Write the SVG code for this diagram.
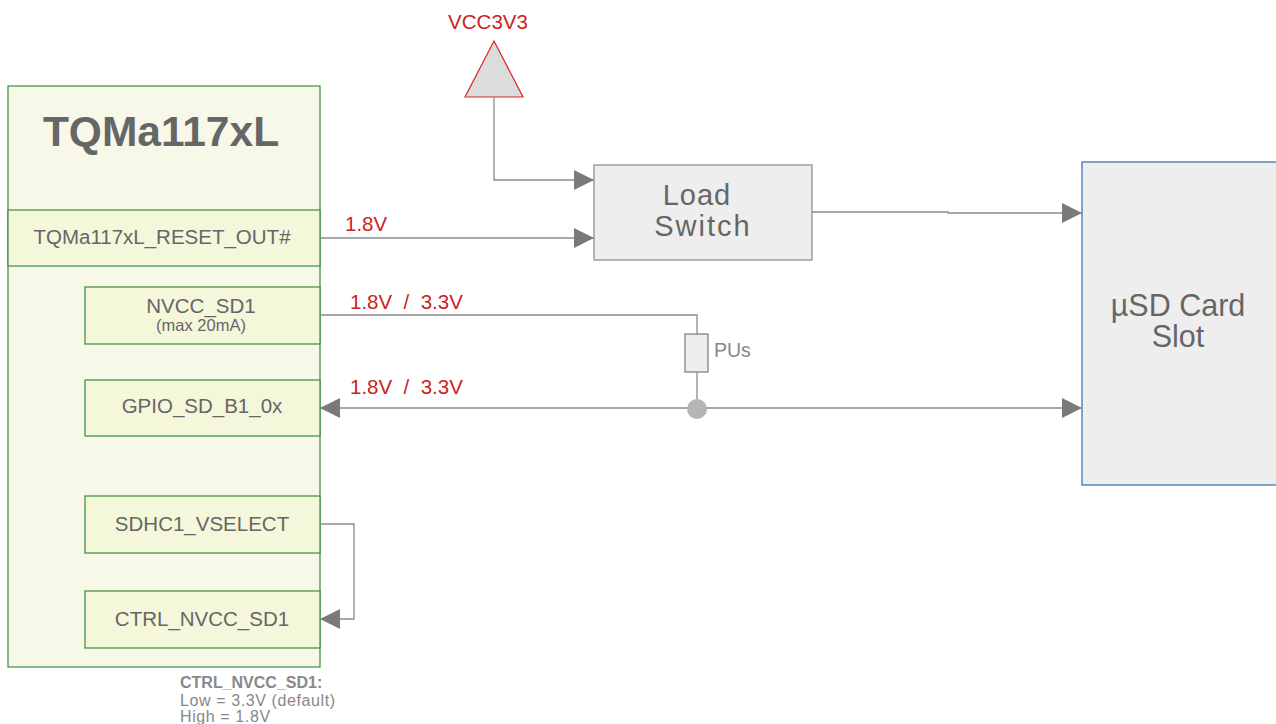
<svg xmlns="http://www.w3.org/2000/svg" width="1276" height="724" viewBox="0 0 1276 724">
<style>
.sig{fill:#f5f7da;stroke:#3b8a3b;stroke-width:1.2}
.lbl{font-family:"Liberation Sans",Arial,sans-serif;fill:#666;text-anchor:middle}
.red{font-family:"Liberation Sans",Arial,sans-serif;fill:#cc2222;font-size:20.5px}
.wire{fill:none;stroke:#8a8a8a;stroke-width:1.3}
</style>
<defs>
<marker id="ah" viewBox="0 0 20 20" refX="20" refY="10" markerWidth="20" markerHeight="20" markerUnits="userSpaceOnUse" orient="auto-start-reverse">
<path d="M0,0 L20,10 L0,20 Z" fill="#7a7a7a"/>
</marker>
</defs>
<rect width="1276" height="724" fill="#fff"/>

<g id="tqma">
<rect x="8" y="86" width="312" height="581" fill="#f7f8e8" stroke="#3b8a3b" stroke-width="1.2"/>
<text class="lbl" x="161" y="146" font-size="42.5" font-weight="bold">TQMa117xL</text>
</g>
<g id="reset_out">
<rect class="sig" x="8" y="210" width="312" height="56"/>
<text class="lbl" x="162" y="244" font-size="20.5">TQMa117xL_RESET_OUT#</text>
</g>
<g id="nvcc_sd1">
<rect class="sig" x="85" y="287" width="235" height="57"/>
<text class="lbl" x="201" y="313" font-size="20.5">NVCC_SD1</text>
<text class="lbl" x="201" y="331" font-size="16.5">(max 20mA)</text>
</g>
<g id="gpio">
<rect class="sig" x="85" y="380" width="235" height="56"/>
<text class="lbl" x="202" y="413" font-size="20.5">GPIO_SD_B1_0x</text>
</g>
<g id="vselect">
<rect class="sig" x="85" y="496" width="235" height="57"/>
<text class="lbl" x="202" y="531" font-size="20.5">SDHC1_VSELECT</text>
</g>
<g id="ctrl">
<rect class="sig" x="85" y="591" width="235" height="57"/>
<text class="lbl" x="202" y="626" font-size="20.5">CTRL_NVCC_SD1</text>
</g>
<g id="note" font-family="Liberation Sans,Arial,sans-serif" fill="#888" font-size="16">
<text x="180" y="688" font-weight="bold">CTRL_NVCC_SD1:</text>
<text x="180" y="706" letter-spacing="0.6">Low = 3.3V (default)</text>
<text x="180" y="722" letter-spacing="0.6">High = 1.8V</text>
</g>

<g id="vcc3v3">
<text class="red" x="488" y="29" text-anchor="middle">VCC3V3</text>
<polygon points="494,41 465,97 523,97" fill="#dcdcdc" stroke="#e02020" stroke-width="1.2"/>
</g>
<g id="load_switch">
<rect x="594" y="165" width="218" height="95" fill="#eeeeee" stroke="#888" stroke-width="1.2"/>
<text class="lbl" x="697" y="205" font-size="29" letter-spacing="1">Load</text>
<text class="lbl" x="703" y="236" font-size="29" letter-spacing="2">Switch</text>
</g>
<g id="usd">
<rect x="1082" y="162" width="200" height="323" fill="#eeeeee" stroke="#2e6db0" stroke-width="1.2"/>
<text class="lbl" x="1178" y="316" font-size="30.5">µSD Card</text>
<text class="lbl" x="1178" y="347" font-size="30.5">Slot</text>
</g>
<g id="pus">
<rect x="685" y="334" width="23" height="38" fill="#eeeeee" stroke="#777" stroke-width="1.2"/>
<text x="714" y="357" font-family="Liberation Sans,Arial,sans-serif" font-size="19.5" fill="#888">PUs</text>
</g>

<g id="connectors">
<path class="wire" d="M494,97 V180 H594" marker-end="url(#ah)"/>
<path class="wire" d="M320,238 H594" marker-end="url(#ah)"/>
<path class="wire" d="M812,212 H948 V213 H1082" marker-end="url(#ah)"/>
<path class="wire" d="M320,315 H697 V334"/>
<path class="wire" d="M697,372 V408"/>
<path class="wire" d="M320,408 H1082" marker-start="url(#ah)" marker-end="url(#ah)"/>
<circle cx="697" cy="409" r="10" fill="#b5b5b5"/>
<path class="wire" d="M320,524 H354 V619 H320" marker-end="url(#ah)"/>
<text class="red" x="345" y="231">1.8V</text>
<text class="red" x="350" y="309" xml:space="preserve">1.8V  /  3.3V</text>
<text class="red" x="350" y="394" xml:space="preserve">1.8V  /  3.3V</text>
</g>
</svg>
